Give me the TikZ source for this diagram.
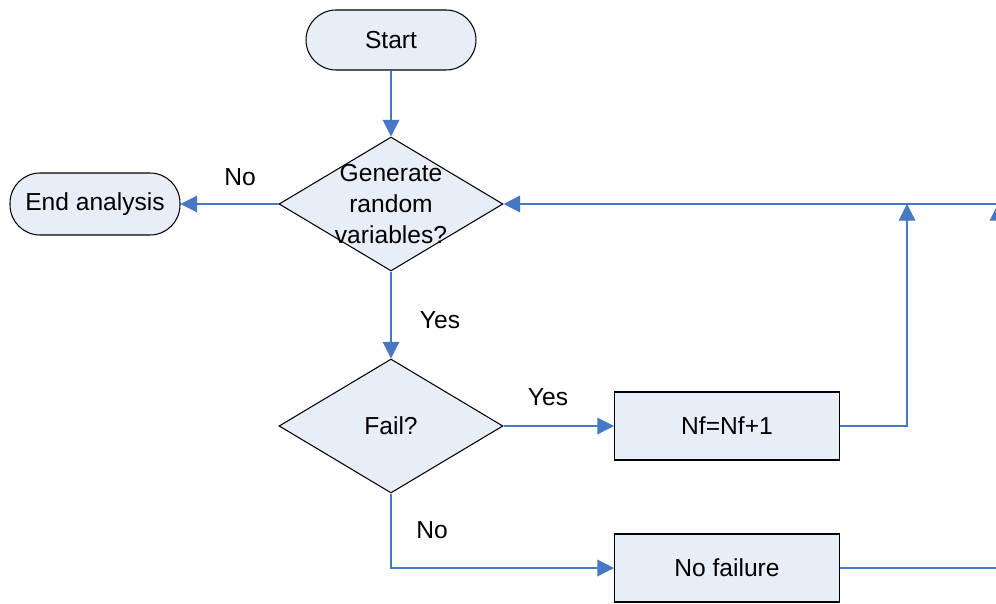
\documentclass[tikz,border=0pt]{standalone}
\usepackage{fontspec}
\setmainfont{Liberation Sans}
\usetikzlibrary{shapes.geometric,arrows.meta}
\definecolor{flowblue}{RGB}{70,120,198}
\definecolor{boxfill}{RGB}{232,238,248}

\begin{document}
\begin{tikzpicture}[x=0.02cm, y=-0.02cm, >={Triangle[length=9.5pt,width=9.5pt]},
		font=\fontsize{14}{17.7}\selectfont,
		terminal/.style={draw=black, fill=boxfill, rounded corners=0.6cm, minimum width=3.4cm, minimum height=1.2cm, line width=0.6pt},
		decision/.style={draw=black, fill=boxfill, diamond, minimum width=4.48cm, minimum height=2.68cm, inner sep=0pt, line width=0.6pt},
		process/.style={draw=black, fill=boxfill, minimum width=4.5cm, minimum height=1.36cm, line width=0.6pt},
		flow/.style={draw=flowblue, line width=0.7pt},
		tag/.style={inner sep=0pt}]
		\clip (0,0) rectangle (996,604);
		\node [terminal] (start) at (391, 40) {Start};
		\node [decision, label={[align=center]center:Generate\\random\\variables?}] (gen) at (391, 204) {};
		\node [terminal, minimum height=1.24cm] (end) at (95, 204) {End analysis};
		\node [decision] (fail) at (391, 426) {Fail?};
		\node [process] (nf) at (727, 426) {Nf=Nf+1};
		\node [process] (nofail) at (727, 568) {No failure};
		\coordinate (j1) at (907, 204);
		\coordinate (j2) at (998, 204);
		\coordinate (jr) at (1010, 204);
		\draw [flow, ->] (start.south) to (gen.north);
		\draw [flow, ->] (gen.west) to (end.east);
		\draw [flow, ->] (gen.south) to (fail.north);
		\draw [flow, ->] (fail.east) to (nf.west);
		\draw [flow, ->] (fail.south) |- (nofail.west);
		\draw [flow, ->] (nf.east) -| (j1);
		\draw [flow, ->] (nofail.east) -| (j2);
		\draw [flow, ->] (jr) to (gen.east);
		\node [tag] (lno1) at (240, 177) {No};
		\node [tag] (lyes1) at (440, 320) {Yes};
		\node [tag] (lyes2) at (548, 397) {Yes};
		\node [tag] (lno2) at (432, 530) {No};
\end{tikzpicture}
\end{document}
